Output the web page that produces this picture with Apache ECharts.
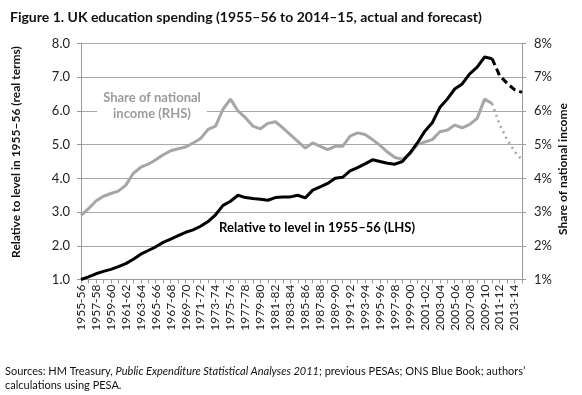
<!DOCTYPE html>
<html>
<head>
<meta charset="utf-8">
<script src="https://cdn.jsdelivr.net/npm/echarts@6/dist/echarts.min.js"></script>
<style>
html,body{margin:0;padding:0;background:#fff;}
#c{width:582px;height:395px;}
</style>
</head>
<body>
<div id="c"></div>
<script>
const categories = ["1955-56","1956-57","1957-58","1958-59","1959-60","1960-61","1961-62","1962-63","1963-64","1964-65",
"1965-66","1966-67","1967-68","1968-69","1969-70","1970-71","1971-72","1972-73","1973-74","1974-75",
"1975-76","1976-77","1977-78","1978-79","1979-80","1980-81","1981-82","1982-83","1983-84","1984-85",
"1985-86","1986-87","1987-88","1988-89","1989-90","1990-91","1991-92","1992-93","1993-94","1994-95",
"1995-96","1996-97","1997-98","1998-99","1999-00","2000-01","2001-02","2002-03","2003-04","2004-05",
"2005-06","2006-07","2007-08","2008-09","2009-10","2010-11","2011-12","2012-13","2013-14","2014-15"];

// Relative to level in 1955-56 (LHS), actual 1955-56 .. 2010-11
const lhsActual = [1.00,1.08,1.17,1.24,1.30,1.38,1.47,1.60,1.75,1.86,
1.97,2.10,2.20,2.30,2.40,2.47,2.58,2.72,2.92,3.20,
3.32,3.50,3.43,3.40,3.38,3.35,3.43,3.45,3.45,3.50,
3.42,3.65,3.75,3.85,4.00,4.03,4.22,4.32,4.43,4.55,
4.50,4.45,4.42,4.50,4.75,5.05,5.40,5.65,6.10,6.35,
6.65,6.80,7.10,7.30,7.60,7.55];
// forecast 2010-11 .. 2014-15
const lhsForecast = [7.55,7.05,6.82,6.63,6.55];

// Share of national income, % (RHS), actual 1955-56 .. 2010-11
const rhsActual = [2.90,3.10,3.33,3.47,3.55,3.62,3.80,4.15,4.33,4.42,
4.55,4.70,4.82,4.88,4.93,5.05,5.18,5.45,5.55,6.05,
6.35,6.00,5.80,5.55,5.47,5.63,5.68,5.50,5.30,5.10,
4.90,5.05,4.95,4.85,4.95,4.95,5.25,5.35,5.30,5.15,
4.98,4.78,4.62,4.57,4.72,5.00,5.08,5.15,5.38,5.43,
5.58,5.50,5.60,5.78,6.35,6.22];
// forecast 2010-11 .. 2014-15
const rhsForecast = [6.22,5.60,5.15,4.80,4.55];

const fcStart = categories.length - lhsForecast.length;
function padActual(a){ return a.concat(new Array(categories.length - a.length).fill(null)); }
function padForecast(a){ return new Array(fcStart).fill(null).concat(a); }

const FONT = 'Lato';
const chart = echarts.init(document.getElementById('c'), null, {renderer:'canvas'});
chart.setOption({
  animation:false,
  backgroundColor:'#fff',
  textStyle:{fontFamily:FONT},
  title:{
    text:'Figure 1. UK education spending (1955–56 to 2014–15, actual and forecast)',
    left:5, top:5,
    textStyle:{fontFamily:FONT, fontSize:14, fontWeight:'bold', color:'#111'}
  },
  grid:{left:81, right:60, top:43.5, bottom:115.5, containLabel:false},
  xAxis:{
    type:'category', data:categories, boundaryGap:false,
    axisLine:{lineStyle:{color:'#9a9a9a', width:1}},
    axisTick:{interval:0, length:4, lineStyle:{color:'#9a9a9a'}},
    axisLabel:{interval:1, rotate:90, fontSize:12, color:'#222', margin:5, fontFamily:FONT},
    splitLine:{show:false}
  },
  yAxis:[{
    type:'value', min:1, max:8, interval:1, position:'left',
    axisLine:{show:true, lineStyle:{color:'#9a9a9a'}},
    axisTick:{show:true, length:4, lineStyle:{color:'#9a9a9a'}},
    axisLabel:{formatter:v=>v.toFixed(1), fontSize:13, color:'#222', margin:11, fontFamily:FONT},
    splitLine:{show:true, lineStyle:{color:'#a8a8a8', width:1.2}}
  },{
    type:'value', min:1, max:8, interval:1, position:'right',
    axisLine:{show:true, lineStyle:{color:'#9a9a9a'}},
    axisTick:{show:true, length:4, lineStyle:{color:'#9a9a9a'}},
    axisLabel:{formatter:v=>v+'%', fontSize:13, color:'#222', margin:12, fontFamily:FONT},
    splitLine:{show:false}
  }],
  series:[
    {type:'line', name:'RHS actual', yAxisIndex:1, data:padActual(rhsActual), showSymbol:false, symbol:'none',
     lineStyle:{color:'#a6a6a6', width:3}, z:2},
    {type:'line', name:'RHS forecast', yAxisIndex:1, data:padForecast(rhsForecast), showSymbol:false, symbol:'none',
     lineStyle:{color:'#a6a6a6', width:2.5, type:[2,4]}, z:2},
    {type:'line', name:'LHS actual', yAxisIndex:0, data:padActual(lhsActual), showSymbol:false, symbol:'none',
     lineStyle:{color:'#000', width:3}, z:3},
    {type:'line', name:'LHS forecast', yAxisIndex:0, data:padForecast(lhsForecast), showSymbol:false, symbol:'none',
     lineStyle:{color:'#000', width:3, type:[7,4]}, z:3}
  ],
  graphic:[
    {type:'text', z:10, x:152, y:106,
     style:{text:'Share of national\nincome (RHS)', x:0, y:0, align:'center', verticalAlign:'middle',
       font:'bold 13px '+FONT, fill:'#9c9c9c', lineHeight:16, backgroundColor:'#fff', padding:[0,6]}},
    {type:'text', z:10, x:317, y:228,
     style:{text:'Relative to level in 1955–56 (LHS)', x:0, y:0, align:'center', verticalAlign:'middle',
       font:'bold 13px '+FONT, fill:'#000', backgroundColor:'#fff', padding:[1,3]}},
    {type:'text', z:10, rotation:Math.PI/2, x:16, y:152,
     style:{text:'Relative to level in 1955–56 (real terms)', x:0, y:0, align:'center', verticalAlign:'middle',
       font:'bold 12px '+FONT, fill:'#111'}},
    {type:'text', z:10, rotation:Math.PI/2, x:563, y:169,
     style:{text:'Share of national income', x:0, y:0, align:'center', verticalAlign:'middle',
       font:'bold 12px '+FONT, fill:'#111'}},
    {type:'text', z:10, x:5, y:364,
     style:{rich:{n:{fontFamily:FONT, fontSize:11, fill:'#111'}, i:{fontFamily:FONT, fontSize:11, fontStyle:'italic', fill:'#111'}},
       text:'{n|Sources: HM Treasury, }{i|Public Expenditure Statistical Analyses 2011}{n|; previous PESAs; ONS Blue Book; authors’}\n{n|calculations using PESA.}',
       lineHeight:14, fill:'#111'}}
  ]
});
</script>
</body>
</html>
